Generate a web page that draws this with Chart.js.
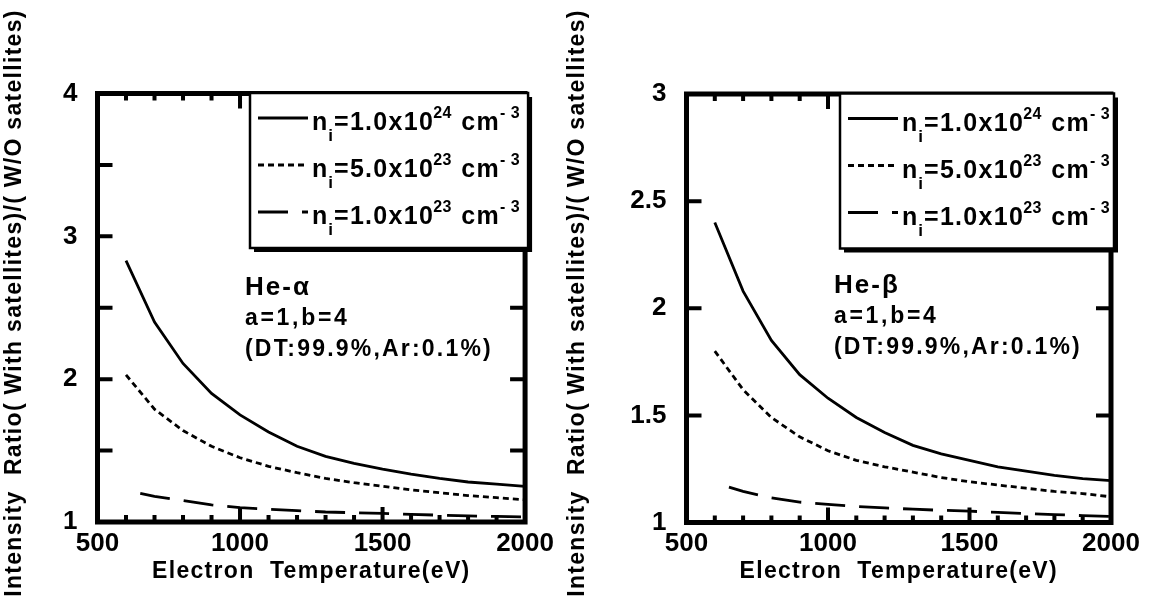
<!DOCTYPE html>
<html><head><meta charset="utf-8">
<script src="https://cdn.jsdelivr.net/npm/chart.js@4.4.1/dist/chart.umd.min.js"></script>
<style>
html,body{margin:0;padding:0;background:#fff;width:1152px;height:605px;overflow:hidden}
.box{position:absolute;top:0;height:605px}
#b1{left:0;width:560px}#b2{left:560px;width:592px}
</style></head><body>
<div class="box" id="b1"><canvas id="c1" width="560" height="605"></canvas></div>
<div class="box" id="b2"><canvas id="c2" width="592" height="605"></canvas></div>
<script>
// ---- data ----
const temps = [600,700,800,900,1000,1100,1200,1300,1400,1500,1600,1700,1800,1900,2000];
const tempsLow = [650,700,800,900,1000,1100,1200,1300,1400,1500,1600,1700,1800,1900,2000];
const alphaHigh = [2.83,2.40,2.11,1.90,1.75,1.63,1.53,1.46,1.41,1.37,1.335,1.305,1.28,1.265,1.25];
const alphaMid  = [2.03,1.79,1.64,1.53,1.45,1.39,1.345,1.305,1.275,1.25,1.225,1.205,1.185,1.17,1.155];
const alphaLow  = [1.20,1.18,1.15,1.12,1.10,1.09,1.08,1.07,1.065,1.06,1.053,1.048,1.043,1.039,1.035];
const betaHigh  = [2.40,2.08,1.85,1.69,1.58,1.49,1.42,1.36,1.32,1.29,1.26,1.24,1.22,1.205,1.195];
const betaMid   = [1.80,1.62,1.49,1.40,1.335,1.29,1.26,1.235,1.21,1.19,1.175,1.16,1.145,1.135,1.12];
const betaLow   = [1.165,1.145,1.115,1.095,1.085,1.075,1.068,1.062,1.057,1.053,1.047,1.042,1.037,1.032,1.028];
const densMantissa = ['1.0','5.0','1.0'];
const densExponent = ['24','23','23'];
const xTickLabels = [500,1000,1500,2000];
const xTickMarks = [600,700,800,900,1000,1100,1200,1300,1400,1500,1600,1700,1800,1900];
const xMajorMarks = [1000,1500];
const yTicksAlpha = [1,2,3,4];
const yMarksAlpha = [1.5,2,2.5,3,3.5];
const yTicksBeta = [1,1.5,2,2.5,3];
const yMarksBeta = [1.5,2,2.5];

const FONT = '"Liberation Sans", Arial, Helvetica, sans-serif';

function txt(ctx, s, x, y, size, sp, align) {
  ctx.font = 'bold ' + size + 'px ' + FONT;
  ctx.letterSpacing = sp + 'px';
  ctx.textAlign = align || 'left';
  ctx.fillText(s, x, y);
  const w = ctx.measureText(s).width;
  ctx.letterSpacing = '0px';
  return w;
}

const decor = {
  id: 'decor',
  afterDatasetsDraw(chart, args, o) {
    const ctx = chart.ctx;
    const {left, right, top, bottom} = chart.chartArea;
    const xs = chart.scales.x, ys = chart.scales.y;
    ctx.save();
    ctx.strokeStyle = '#000'; ctx.fillStyle = '#000';
    ctx.lineCap = 'butt';
    // tick marks
    ctx.lineWidth = 4;
    ctx.beginPath();
    o.xMarks.forEach(v => {
      const p = xs.getPixelForValue(v);
      const L = o.xMajor.includes(v) ? 15 : 7;
      ctx.moveTo(p, bottom); ctx.lineTo(p, bottom - L);
      ctx.moveTo(p, top); ctx.lineTo(p, top + L);
    });
    o.yMarks.forEach(v => {
      const p = ys.getPixelForValue(v);
      ctx.moveTo(left, p); ctx.lineTo(left + 15, p);
      ctx.moveTo(right, p); ctx.lineTo(right - 15, p);
    });
    ctx.stroke();
    ctx.lineWidth = 5;
    ctx.strokeRect(left, top, right - left, bottom - top);

    // legend box
    const bx = left + o.legendDx, by = top - 0.5, bw = right + 3 - bx, bh = 155;
    ctx.fillRect(bx + 4, by + 4, bw, bh);
    ctx.fillStyle = '#fff'; ctx.fillRect(bx, by, bw, bh);
    ctx.fillStyle = '#000';
    ctx.lineWidth = 2.5; ctx.strokeRect(bx, by, bw, bh);
    ctx.textBaseline = 'alphabetic';
    chart.data.datasets.forEach((ds, i) => {
      const yy = by + 25 + i * 47;
      ctx.lineWidth = ds.borderWidth;
      ctx.setLineDash(ds.borderDash || []);
      ctx.beginPath(); ctx.moveTo(bx + 8, yy); ctx.lineTo(bx + 58, yy); ctx.stroke();
      ctx.setLineDash([]);
      let x = bx + 62; const base = yy + 12;
      x += txt(ctx, 'n', x, base, 25, 1);
      x += txt(ctx, 'i', x, base + 11, 17, 1);
      x += txt(ctx, '=' + densMantissa[i] + 'x10', x, base, 25, 1.3);
      x += txt(ctx, densExponent[i], x - 1, base - 12, 16, 0.5);
      x += txt(ctx, ' cm', x, base, 25, 1.3);
      txt(ctx, '- 3', x, base - 12, 16, 0.5);
    });

    // annotation
    o.notes.forEach(n => txt(ctx, n.text, left + n.dx, top + n.dy, n.size, n.sp));

    // axis titles
    ctx.textBaseline = 'middle';
    txt(ctx, 'Electron  Temperature(eV)', (left + right) / 2, 572, 23, 1.3, 'center');
    ctx.save();
    ctx.translate(o.yTitleX, 303);
    ctx.rotate(-Math.PI / 2);
    txt(ctx, 'Intensity  Ratio( With satellites)/( W/O satellites)', 0, 0, 23, 1.3, 'center');
    ctx.restore();
    ctx.restore();
  }
};

function makeChart(id, cfg) {
  const ds = (xArr, yArr, dash) => ({
    data: xArr.map((t, i) => ({x: t, y: yArr[i]})),
    borderColor: '#000', backgroundColor: '#000', borderWidth: 2.8,
    borderDash: dash, pointRadius: 0, tension: 0, fill: false
  });
  return new Chart(document.getElementById(id), {
    type: 'line',
    data: {
      datasets: [
        ds(temps, cfg.high, []),
        ds(temps, cfg.mid, [6, 4]),
        ds(tempsLow, cfg.low, [30, 14])
      ]
    },
    plugins: [decor],
    options: {
      responsive: false, animation: false, devicePixelRatio: 1,
      layout: {padding: {top: cfg.top, right: cfg.padRight, bottom: 0, left: 0}},
      plugins: {
        legend: {display: false}, tooltip: {enabled: false},
        decor: {
          xMarks: xTickMarks, xMajor: xMajorMarks, yMarks: cfg.yMarks,
          legendDx: cfg.legendDx, yTitleX: cfg.yTitleX,
          notes: [
            {text: cfg.name, dx: 147.5, dy: cfg.ny, size: 26, sp: 2},
            {text: 'a=1,b=4', dx: 147.5, dy: cfg.ny + 30, size: 23, sp: 2.7},
            {text: '(DT:99.9%,Ar:0.1%)', dx: 147.5, dy: cfg.ny + 61, size: 23, sp: 2.2}
          ]
        }
      },
      scales: {
        x: {
          type: 'linear', min: 500, max: 2000,
          afterBuildTicks: s => { s.ticks = xTickLabels.map(v => ({value: v})); },
          afterFit: s => { s.height = cfg.xH; },
          grid: {display: false, drawTicks: false}, border: {display: false},
          ticks: {color: '#000', font: {family: FONT, size: 26, weight: 'bold'}, padding: 6,
                  maxRotation: 0, autoSkip: false, callback: v => String(v)}
        },
        y: {
          type: 'linear', min: cfg.yMin, max: cfg.yMax,
          afterBuildTicks: s => { s.ticks = cfg.yTicks.map(v => ({value: v})); },
          afterFit: s => { s.width = cfg.yW; },
          grid: {display: false, drawTicks: false}, border: {display: false},
          ticks: {color: '#000', font: {family: FONT, size: 26, weight: 'bold'}, padding: 20,
                  autoSkip: false, callback: v => String(v)}
        }
      }
    }
  });
}

makeChart('c1', {high: alphaHigh, mid: alphaMid, low: alphaLow, yMin: 1, yMax: 4,
  yTicks: yTicksAlpha, yMarks: yMarksAlpha, top: 93.5, padRight: 33, yW: 97.5, xH: 83,
  legendDx: 152.5, yTitleX: 15, name: 'He-\u03b1', ny: 201.5});
makeChart('c2', {high: betaHigh, mid: betaMid, low: betaLow, yMin: 1, yMax: 3,
  yTicks: yTicksBeta, yMarks: yMarksBeta, top: 94, padRight: 41, yW: 126.5, xH: 82.5,
  legendDx: 153.5, yTitleX: 18, name: 'He-\u03b2', ny: 199});
</script>
</body></html>
